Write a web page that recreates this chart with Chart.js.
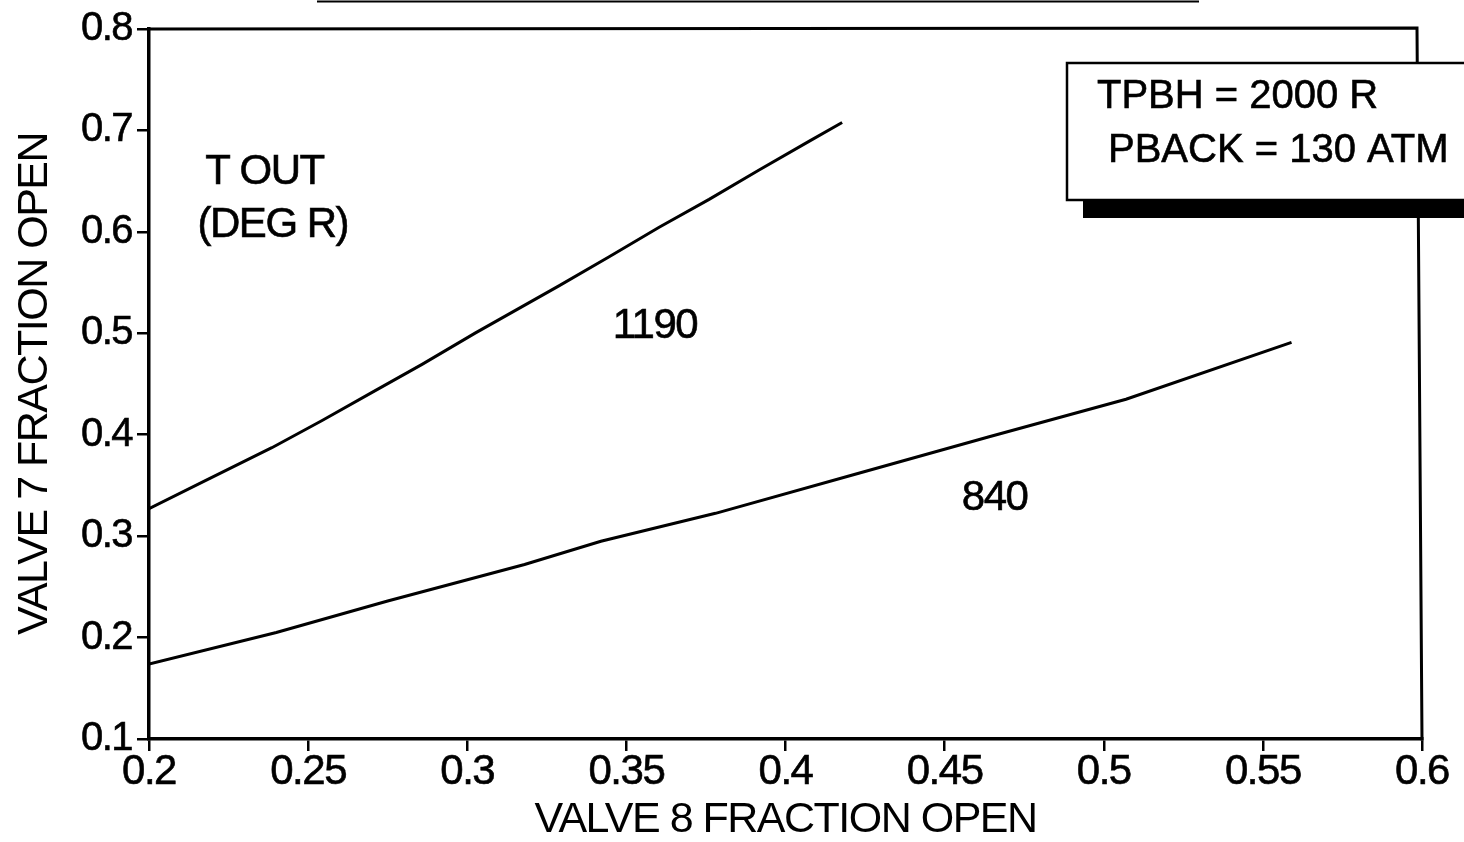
<!DOCTYPE html>
<html>
<head>
<meta charset="utf-8">
<title>Valve 7 vs Valve 8 fraction open</title>
<script src="https://cdn.jsdelivr.net/npm/chart.js@4.4.1/dist/chart.umd.min.js"></script>
<style>
    html, body { margin: 0; padding: 0; background: #fff; }
    #wrap { width: 1464px; height: 842px; }
</style>
</head>
<body>
<div id="wrap"><canvas id="valveChart" width="1464" height="842"></canvas></div>
<script>
// T OUT = 1190 deg R curve
const valve8Hot = [0.200, 0.2177, 0.2386, 0.2544, 0.2701, 0.2858, 0.3026, 0.3288, 0.3446, 0.3603, 0.3760, 0.3917, 0.4075, 0.4178];
const valve7Hot = [0.327, 0.3548, 0.3872, 0.414, 0.4417, 0.4694, 0.5004, 0.5467, 0.5755, 0.6045, 0.632, 0.661, 0.6895, 0.7078];

// T OUT = 840 deg R curve
const valve8Cool = [0.200, 0.240, 0.275, 0.318, 0.342, 0.378, 0.423, 0.464, 0.507, 0.559];
const valve7Cool = [0.174, 0.205, 0.236, 0.272, 0.295, 0.3225, 0.362, 0.398, 0.435, 0.491];

// Axis ticks
const xTicks = [0.2, 0.25, 0.3, 0.35, 0.4, 0.45, 0.5, 0.55, 0.6];
const yTicks = [0.1, 0.2, 0.3, 0.4, 0.5, 0.6, 0.7, 0.8];

// Text placed on the plot: [text, x value, y value]
const plotNotes = [
    ['T OUT', 0.2363, 0.659],
    ['(DEG R)', 0.2389, 0.606],
    ['1190', 0.359, 0.507],
    ['840', 0.4657, 0.337]
];
const boxLines = ['TPBH = 2000 R', 'PBACK = 130 ATM'];

const FONT = "'Liberation Sans', Arial, Helvetica, sans-serif";
const TIGHT = '-1.5px';

function toPoints(xs, ys) {
    return xs.map((x, i) => ({ x: x, y: ys[i] }));
}

// The scanned lettering is set tight, so squeeze every text a little
const spacingPlugin = {
    id: 'spacing',
    beforeLayout(chart) { chart.ctx.letterSpacing = TIGHT; },
    beforeDraw(chart) { chart.ctx.letterSpacing = TIGHT; }
};

// Frame, text notes and the condition box
const extrasPlugin = {
    id: 'extras',
    afterDraw(chart) {
        const ctx = chart.ctx;
        const area = chart.chartArea;
        const xs = chart.scales.x;
        const ys = chart.scales.y;

        ctx.save();
        ctx.strokeStyle = '#000';
        ctx.lineCap = 'square';

        // leftover rule at the very top
        ctx.lineWidth = 2;
        ctx.beginPath();
        ctx.moveTo(318, 1.5);
        ctx.lineTo(1198, 1.5);
        ctx.stroke();

        // top and right frame
        ctx.lineWidth = 3;
        ctx.beginPath();
        ctx.moveTo(area.left, area.top);
        ctx.lineTo(area.right - 5, area.top - 1);
        ctx.lineTo(area.right, area.bottom);
        ctx.stroke();

        // notes
        ctx.fillStyle = '#000';
        ctx.lineWidth = 0.6;
        ctx.font = '42px ' + FONT;
        ctx.textAlign = 'center';
        ctx.textBaseline = 'middle';
        plotNotes.forEach(n => {
            const px = xs.getPixelForValue(n[1]);
            const py = ys.getPixelForValue(n[2]);
            ctx.fillText(n[0], px, py);
            ctx.strokeText(n[0], px, py);
        });

        // condition box with shadow
        const bx = 1067, by = 63, bb = 200;
        ctx.fillStyle = '#000';
        ctx.fillRect(bx + 16, bb, chart.width, 18);
        ctx.fillStyle = '#fff';
        ctx.fillRect(bx, by, chart.width, bb - by);
        ctx.lineWidth = 2.5;
        ctx.beginPath();
        ctx.moveTo(chart.width + 5, by);
        ctx.lineTo(bx, by);
        ctx.lineTo(bx, bb);
        ctx.lineTo(chart.width + 5, bb);
        ctx.stroke();

        ctx.fillStyle = '#000';
        ctx.lineWidth = 0.6;
        ctx.letterSpacing = '0px';
        ctx.font = '40px ' + FONT;
        ctx.textAlign = 'left';
        ctx.textBaseline = 'alphabetic';
        ctx.fillText(boxLines[0], 1097, 108);
        ctx.strokeText(boxLines[0], 1097, 108);
        ctx.fillText(boxLines[1], 1108, 162);
        ctx.strokeText(boxLines[1], 1108, 162);
        ctx.restore();
    }
};

const chart = new Chart(document.getElementById('valveChart'), {
    type: 'scatter',
    data: {
        datasets: [
            {
                label: '1190',
                data: toPoints(valve8Hot, valve7Hot),
                showLine: true,
                borderColor: '#000',
                borderWidth: 3,
                pointRadius: 0,
                tension: 0
            },
            {
                label: '840',
                data: toPoints(valve8Cool, valve7Cool),
                showLine: true,
                borderColor: '#000',
                borderWidth: 3,
                pointRadius: 0,
                tension: 0
            }
        ]
    },
    options: {
        responsive: false,
        animation: false,
        layout: { padding: { top: 24, right: 42, left: 0, bottom: 0 } },
        plugins: {
            legend: { display: false },
            tooltip: { enabled: false }
        },
        scales: {
            x: {
                type: 'linear',
                min: 0.2,
                max: 0.6,
                afterBuildTicks: scale => { scale.ticks = xTicks.map(v => ({ value: v })); },
                afterFit: scale => { scale.height = 103; },
                border: { display: true, color: '#000', width: 3.5 },
                grid: { drawOnChartArea: false, drawTicks: true, tickLength: 12, color: '#000', lineWidth: 2.5 },
                ticks: {
                    color: '#000',
                    padding: -4,
                    maxRotation: 0,
                    textStrokeColor: '#000',
                    textStrokeWidth: 0.6,
                    font: { family: FONT, size: 42 },
                    callback: v => String(+v.toFixed(2))
                },
                title: {
                    display: true,
                    text: 'VALVE 8 FRACTION OPEN',
                    color: '#000',
                    font: { family: FONT, size: 43, lineHeight: 1 },
                    padding: 0
                }
            },
            y: {
                type: 'linear',
                min: 0.1,
                max: 0.8,
                afterBuildTicks: scale => { scale.ticks = yTicks.map(v => ({ value: v })); },
                afterFit: scale => { scale.width = 149; },
                border: { display: true, color: '#000', width: 3.5 },
                grid: { drawOnChartArea: false, drawTicks: true, tickLength: 12, color: '#000', lineWidth: 2.5 },
                ticks: {
                    color: '#000',
                    padding: 5,
                    textStrokeColor: '#000',
                    textStrokeWidth: 0.6,
                    font: { family: FONT, size: 40 },
                    callback: v => String(+v.toFixed(2))
                },
                title: {
                    display: true,
                    text: 'VALVE 7 FRACTION OPEN',
                    color: '#000',
                    font: { family: FONT, size: 43, lineHeight: 1 },
                    padding: 14
                }
            }
        }
    },
    plugins: [spacingPlugin, extrasPlugin]
});
</script>
</body>
</html>
